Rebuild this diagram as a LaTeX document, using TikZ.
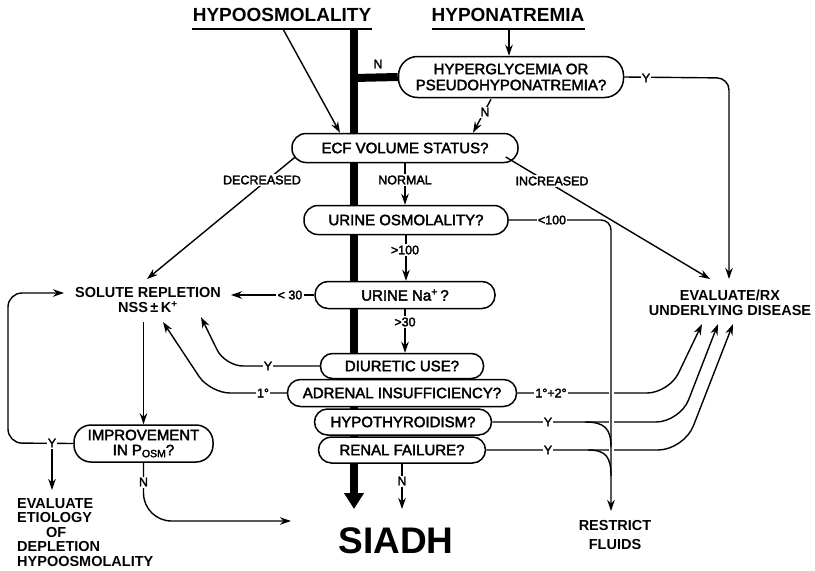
\documentclass[tikz,border=0pt]{standalone}
\usepackage{fontspec}
\setmainfont{Liberation Sans}
\newfontfamily\medfont{Liberation Sans}[FakeBold=2.5]
\usetikzlibrary{arrows.meta,calc,backgrounds}
\begin{document}
\begin{tikzpicture}[x=1pt,y=-1pt,
  box/.style={draw,line width=1.5pt,fill=white,inner sep=0pt,font=\medfont\fontsize{15}{16}\selectfont,align=center},
  lbl/.style={fill=white,inner sep=1.2pt,font=\medfont\fontsize{12.5}{13}\selectfont},
  bold/.style={inner sep=0pt,align=center,font=\fontsize{14.5}{14.5}\bfseries\selectfont},
  head/.style={inner sep=0pt,font=\fontsize{19}{19}\bfseries\selectfont},
  con/.style={line width=1.4pt},
  arr/.style={con,-{Stealth[length=11pt,width=7.5pt]}},
  heavy/.style={line width=8pt}
]
\useasboundingbox (0,0) rectangle (815,571);

% headings
\node[head] (hypo) at (282,15) {HYPOOSMOLALITY};
\node[head] (hypon) at (508,15) {HYPONATREMIA};
\draw[con] (192,29) -- (372,29);
\draw[con] (432,29) -- (585,29);
\coordinate (hu) at (283,29);
\coordinate (nu) at (509,29);
\coordinate (top) at (354,29);
\coordinate (bot) at (354,509);

% boxes
\node[box,minimum width=225pt,minimum height=41pt,rounded corners=19pt] (hyper) at (511,77) {HYPERGLYCEMIA OR\\PSEUDOHYPONATREMIA?};
\node[box,minimum width=226pt,minimum height=29pt,rounded corners=14pt] (ecf) at (405,148) {ECF VOLUME STATUS?};
\node[box,minimum width=204pt,minimum height=29pt,rounded corners=14pt] (uosm) at (406,220) {URINE OSMOLALITY?};
\node[box,minimum width=180pt,minimum height=27pt,rounded corners=13pt] (una) at (405,295) {URINE Na\textsuperscript{+}\,?};
\node[box,minimum width=163pt,minimum height=25pt,rounded corners=12pt] (diur) at (402,366) {DIURETIC USE?};
\node[box,minimum width=229pt,minimum height=27pt,rounded corners=13pt] (adr) at (402,393) {ADRENAL INSUFFICIENCY?};
\node[box,minimum width=177pt,minimum height=26pt,rounded corners=13pt] (hypot) at (403,422) {HYPOTHYROIDISM?};
\node[box,minimum width=167pt,minimum height=26pt,rounded corners=13pt] (renal) at (402,450) {RENAL FAILURE?};
\node[box,minimum width=139pt,minimum height=37pt,rounded corners=17pt,font=\medfont\fontsize{15}{15}\selectfont] (impr) at (143.5,443.5) {IMPROVEMENT\\IN P{\fontsize{10.5}{10}\selectfont\raisebox{-2pt}{OSM}}?};

% thick main line
\begin{pgfonlayer}{background}
\draw[heavy,-{Triangle[length=16pt,width=19pt]}] (top) -- (bot);
\draw[heavy] (354,78) -- (hyper.west);
\end{pgfonlayer}

% outcome texts
\node[bold] (sol) at (148,300) {SOLUTE REPLETION\\[0.5pt]NSS\,±\,K\textsuperscript{+}};
\node[bold] (evrx) at (730,303) {EVALUATE/RX\\UNDERLYING DISEASE};
\node[bold,align=left,anchor=north west,font=\fontsize{14.5}{14.6}\bfseries\selectfont] (evdep) at (17,498) {EVALUATE\\ETIOLOGY\\\hspace*{29pt}OF\\DEPLETION\\HYPOOSMOLALITY};
\node[bold] (rf) at (615,535) {RESTRICT\\[5pt]FLUIDS};
\node[inner sep=0pt,font=\fontsize{37}{37}\bfseries\selectfont] (siadh) at (396,541) {SIADH};

% top connectors
\draw[arr] (hu) -- ($(ecf.north)+(-65,0)$);
\draw[arr] (nu) -- ($(hyper.north)+(-2,0)$);
\draw[arr,rounded corners=12pt] (hyper.east) -- (729,78) -- (729,279);
\draw[arr] ($(hyper.south)+(-20,1)$) -- ($(ecf.north)+(68,0)$);

% ECF branches
\draw[arr] ($(ecf.west)+(4,9)$) -- (147,279);
\draw[arr] (ecf.south) -- (ecf.south |- uosm.north);
\draw[arr] ($(ecf.east)+(-13,9)$) -- (710,279);

% urine osmolality
\draw[arr] (uosm.south) -- (uosm.south |- una.north);
\draw[arr] (una.south) -- (una.south |- diur.north);
\draw[arr] (una.west) -- (231,295);

% left curves
\draw[arr,rounded corners=18pt] (diur.west) -- (225,366) -- (201,317);
\draw[arr,rounded corners=20pt] (adr.west) -- (210,393) -- (163,322);

% right curves
\draw[arr,rounded corners=22pt] (adr.east) -- (669,393) -- (702,324);
\draw[arr,rounded corners=24pt] (hypot.east) -- (680,422) -- (718,324);
\draw[arr,rounded corners=26pt] (renal.east) -- (684,450) -- (733,324);
\draw[white,line width=5pt] (611,385) -- (611,460);
\draw[arr,rounded corners=10pt] (uosm.east) -- (611,220) -- (611,511);
\draw[con] (585,422) .. controls (604,422) and (611,428) .. (611,447);
\draw[con] (588,450) .. controls (606,450) and (611,457) .. (611,476);

% solute repletion loop
\draw[arr] (143.5,322) -- (impr.north);
\draw[arr,rounded corners=14pt] (impr.west) -- (8,443) -- (8,293) -- (64,293);
\draw[arr] (52,449) -- (52,490);
\draw[arr,rounded corners=28pt] (impr.south) -- (143.5,521) -- (291,521);
\draw[arr] (renal.south) -- (renal.south |- bot);

% labels
\node[lbl] (lN1) at (378,64) {N};
\node[lbl] (lY1) at (646,78) {Y};
\node[lbl] (lN2) at (485,112) {N};
\node[lbl] (ldec) at (262,180) {DECREASED};
\node[lbl] (lnor) at (405,180) {NORMAL};
\node[lbl] (linc) at (552,181) {INCREASED};
\node[lbl] (l100a) at (552,220) {<100};
\node[lbl] (l100b) at (405,250) {>100};
\node[lbl] (l30a) at (290,295) {< 30};
\node[lbl] (l30b) at (405,322) {>30};
\node[lbl] (lYd) at (268,366) {Y};
\node[lbl] (l1) at (263,393) {1°};
\node[lbl] (l12) at (551,393) {1°+2°};
\node[lbl] (lYh) at (548,422) {Y};
\node[lbl] (lYr) at (548,450) {Y};
\node[lbl] (lYi) at (52,443) {Y};
\node[lbl] (lNi) at (143.5,482) {N};
\node[lbl] (lNr) at (402,481) {N};
\end{tikzpicture}
\end{document}
